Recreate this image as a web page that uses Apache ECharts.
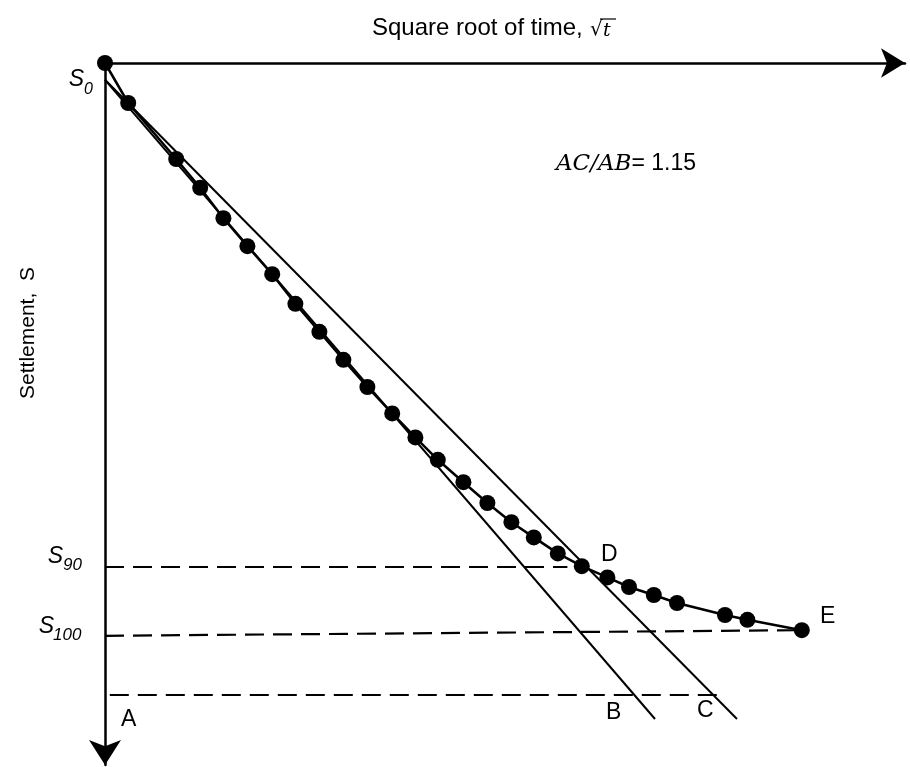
<!DOCTYPE html>
<html>
<head>
<meta charset="utf-8">
<script src="https://cdn.jsdelivr.net/npm/echarts@6/dist/echarts.min.js"></script>
<style>
	html, body { margin: 0; padding: 0; background: #fff; }
	#chart { width: 910px; height: 767px; }
</style>
</head>
<body>
<div id="chart"></div>
<script>
	// square-root-of-time fitting (Taylor), values in plot units
	var sqrtT = [0, 2.9, 8.9, 11.9, 14.8, 17.8, 20.9, 23.8, 26.8, 29.8, 32.8, 35.9, 38.8, 41.6,
		44.8, 47.8, 50.8, 53.6, 56.6, 59.6, 62.8, 65.5, 68.6, 71.5, 77.5, 80.3, 87.1];
	var settlement = [0, 5.0, 12.0, 15.6, 19.4, 22.9, 26.4, 30.1, 33.6, 37.1, 40.5, 43.8, 46.8, 49.6,
		52.4, 55.0, 57.4, 59.3, 61.3, 62.9, 64.3, 65.5, 66.5, 67.5, 69.0, 69.6, 70.9];

	// construction lines
	var lineAB = [[0, 2.1], [68.75, 82.0]];
	var lineAC = [[0, 2.1], [79.0, 82.0]];
	var s90Line = [[0, 63.0], [57.8, 63.0]];
	var s100Line = [[0, 71.6], [87.1, 70.9]];
	var baseLine = [[0.6, 79.0], [76.6, 79.0]];

	var sans = 'Liberation Sans, Arial, sans-serif';
	var serif = 'DejaVu Serif, Liberation Serif, serif';

	var points = sqrtT.map(function(x, i) { return [x, settlement[i]]; });

	function plain(data, w) {
		return {
			type: 'line', data: data, symbol: 'none', clip: false, silent: true,
			lineStyle: { color: '#000', width: w }
		};
	}
	function dashed(data) {
		return {
			type: 'line', data: data, symbol: 'none', clip: false, silent: true,
			lineStyle: { color: '#000', width: 2.2, type: [19, 9] }
		};
	}
	function txt(x, y, s, size, opts) {
		opts = opts || {};
		return {
			type: 'text', x: x, y: y, silent: true, rotation: opts.rot || 0,
			style: {
				text: s, fill: '#000',
				font: (opts.italic ? 'italic ' : '') + size + 'px ' + (opts.family || sans),
				textAlign: opts.align || 'left', textVerticalAlign: 'middle'
			}
		};
	}

	var chart = echarts.init(document.getElementById('chart'));
	var option = {
		animation: false,
		backgroundColor: '#fff',
		grid: { left: 105, right: 5, top: 63, bottom: 2 },
		xAxis: {
			type: 'value', position: 'top', min: 0, max: 100,
			axisLine: { show: true, onZero: false, symbol: ['none', 'arrow'], symbolSize: [22, 24],
				lineStyle: { color: '#000', width: 2.5 } },
			axisTick: { show: false }, axisLabel: { show: false }, splitLine: { show: false }
		},
		yAxis: {
			type: 'value', inverse: true, min: 0, max: 87.75,
			axisLine: { show: true, onZero: false, symbol: ['arrow', 'none'], symbolSize: [24, 25],
				lineStyle: { color: '#000', width: 2.5 } },
			axisTick: { show: false }, axisLabel: { show: false }, splitLine: { show: false }
		},
		series: [
			dashed(s90Line),
			dashed(s100Line),
			dashed(baseLine),
			plain(lineAB, 2),
			plain(lineAC, 2),
			{
				type: 'line', data: points, clip: false, silent: true,
				symbol: 'circle', symbolSize: 16,
				itemStyle: { color: '#000' },
				lineStyle: { color: '#000', width: 2.5 }
			}
		],
		graphic: [
			txt(372, 28, 'Square root of time,', 24),
			txt(590, 30, '\u221A', 20, { family: serif }),
			txt(603, 31, 't', 19, { italic: true, family: serif }),
			{ type: 'line', silent: true, shape: { x1: 600, y1: 19, x2: 616, y2: 19 },
				style: { stroke: '#000', lineWidth: 1.2 } },
			txt(28, 333, 'Settlement,  S', 21, { rot: Math.PI / 2, align: 'center' }),
			txt(84, 80, 'S', 23, { italic: true, align: 'right' }),
			txt(84, 90, '0', 16, { italic: true }),
			txt(63, 557, 'S', 23, { italic: true, align: 'right' }),
			txt(63, 565, '90', 17, { italic: true }),
			txt(54, 627, 'S', 23, { italic: true, align: 'right' }),
			txt(53, 635, '100', 17, { italic: true }),
			txt(121, 720, 'A', 23),
			txt(606, 713, 'B', 23),
			txt(697, 711, 'C', 23),
			txt(601, 555, 'D', 23),
			txt(820, 617, 'E', 23),
			{
				type: 'text', x: 556, y: 164, silent: true,
				style: {
					text: '{i|AC/AB}{n|= 1.15}', textVerticalAlign: 'middle',
					rich: {
						i: { font: 'italic 23px ' + serif, fill: '#000' },
						n: { font: '23px ' + sans, fill: '#000' }
					}
				}
			}
		]
	};
	chart.setOption(option);
</script>
</body>
</html>
